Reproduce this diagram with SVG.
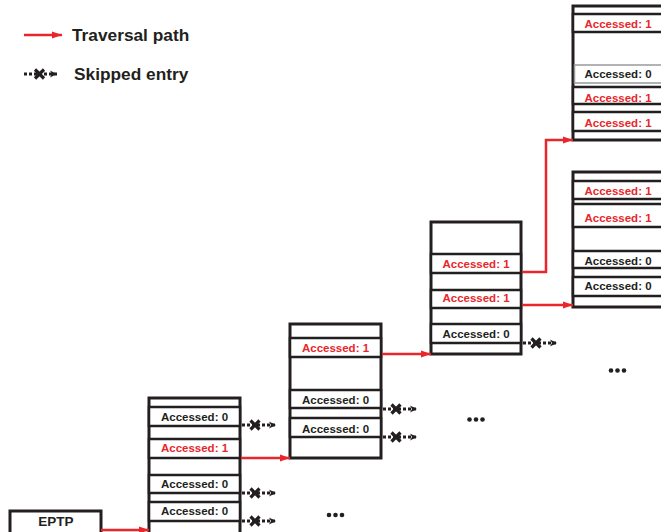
<svg xmlns="http://www.w3.org/2000/svg" width="661" height="532" viewBox="0 0 661 532">
<defs>
<style>
.tbl{fill:#fff;stroke:#231f20;stroke-width:3}
.row{fill:#fff;stroke:#231f20;stroke-width:2.5}
.grow{fill:#fff;stroke:#9a9a9a;stroke-width:1.5}
.lbl{font-family:"Liberation Sans",Arial,sans-serif;font-size:11.5px;font-weight:bold;text-anchor:middle}
.k{fill:#231f20}
.r{fill:#e8262b}
.leg{font-family:"Liberation Sans",Arial,sans-serif;font-size:17.3px;font-weight:bold;fill:#231f20}
.red{fill:none;stroke:#e8262b;stroke-width:2.5;marker-end:url(#ah)}
.skip{fill:none;stroke:#231f20;stroke-width:3;stroke-dasharray:3 2;marker-end:url(#sh)}
.x{stroke:#231f20;stroke-width:3.2;fill:none}
.dot{fill:#231f20}
</style>
<marker id="ah" markerUnits="userSpaceOnUse" markerWidth="11" markerHeight="8" refX="10" refY="4" orient="auto">
<path d="M0,0.5 L10,4 L0,7.5 Z" fill="#e8262b"/>
</marker>
<marker id="sh" markerUnits="userSpaceOnUse" markerWidth="8" markerHeight="8" refX="7" refY="4" orient="auto">
<path d="M0,0.5 L7,4 L0,7.5 L2,4 Z" fill="#231f20"/>
</marker>
</defs>
<rect width="661" height="532" fill="#fff"/>

<g id="legend">
<line class="red" x1="24" y1="35" x2="62" y2="35"/>
<text class="leg" x="72" y="41">Traversal path</text>
<line class="skip" x1="24" y1="74" x2="57" y2="74"/>
<path class="x" d="M35,69.5 L44,78.5 M44,69.5 L35,78.5"/>
<text class="leg" x="74" y="80">Skipped entry</text>
</g>

<g id="eptp">
<rect class="tbl" x="10" y="511" width="91" height="30"/>
<text class="lbl k" x="56" y="526" style="font-size:13.5px">EPTP</text>
</g>

<g id="table-1">
<rect class="tbl" x="149" y="398" width="91" height="150"/>
<rect class="row" x="149" y="407" width="91" height="19"/>
<rect class="row" x="149" y="439" width="91" height="19"/>
<rect class="row" x="149" y="475" width="91" height="18"/>
<rect class="row" x="149" y="502" width="91" height="19"/>
<text class="lbl k" x="194.5" y="421">Accessed: 0</text>
<text class="lbl r" x="194.5" y="452">Accessed: 1</text>
<text class="lbl k" x="194.5" y="488">Accessed: 0</text>
<text class="lbl k" x="194.5" y="515">Accessed: 0</text>
</g>

<g id="table-2">
<rect class="tbl" x="290" y="324" width="91" height="134"/>
<rect class="row" x="290" y="338" width="91" height="19"/>
<rect class="row" x="290" y="390" width="91" height="18"/>
<rect class="row" x="290" y="418" width="91" height="19"/>
<text class="lbl r" x="335.5" y="352">Accessed: 1</text>
<text class="lbl k" x="335.5" y="404">Accessed: 0</text>
<text class="lbl k" x="335.5" y="433">Accessed: 0</text>
</g>

<g id="table-3">
<rect class="tbl" x="431" y="222" width="90" height="132"/>
<rect class="row" x="431" y="254" width="90" height="19"/>
<rect class="row" x="431" y="290" width="90" height="18"/>
<rect class="row" x="431" y="324" width="90" height="19"/>
<text class="lbl r" x="476" y="268">Accessed: 1</text>
<text class="lbl r" x="476" y="302">Accessed: 1</text>
<text class="lbl k" x="476" y="338">Accessed: 0</text>
</g>

<g id="table-4">
<rect class="tbl" x="573" y="6" width="90" height="134"/>
<rect class="row" x="573" y="14" width="90" height="18"/>
<rect class="grow" x="574.5" y="65" width="90" height="18"/>
<rect class="row" x="573" y="87" width="90" height="17"/>
<rect class="row" x="573" y="112" width="90" height="19"/>
<text class="lbl r" x="618" y="28">Accessed: 1</text>
<text class="lbl k" x="618" y="78">Accessed: 0</text>
<text class="lbl r" x="618" y="102">Accessed: 1</text>
<text class="lbl r" x="618" y="127">Accessed: 1</text>
</g>

<g id="table-5">
<rect class="tbl" x="573" y="172" width="90" height="135"/>
<rect class="row" x="573" y="181" width="90" height="18"/>
<rect class="row" x="573" y="204" width="90" height="23"/>
<rect class="row" x="573" y="251" width="90" height="17"/>
<rect class="row" x="573" y="277" width="90" height="19"/>
<text class="lbl r" x="618" y="195">Accessed: 1</text>
<text class="lbl r" x="618" y="222">Accessed: 1</text>
<text class="lbl k" x="618" y="265">Accessed: 0</text>
<text class="lbl k" x="618" y="290">Accessed: 0</text>
</g>

<g id="ellipses">
<circle class="dot" cx="329" cy="515" r="2.3"/><circle class="dot" cx="335.5" cy="515" r="2.3"/><circle class="dot" cx="342" cy="515" r="2.3"/>
<circle class="dot" cx="469.5" cy="419.5" r="2.3"/><circle class="dot" cx="476" cy="419.5" r="2.3"/><circle class="dot" cx="482.5" cy="419.5" r="2.3"/>
<circle class="dot" cx="611" cy="370.5" r="2.3"/><circle class="dot" cx="617.5" cy="370.5" r="2.3"/><circle class="dot" cx="624" cy="370.5" r="2.3"/>
</g>

<g id="connectors">
<line class="red" x1="101" y1="530" x2="149" y2="530"/>
<line class="red" x1="241" y1="458" x2="290" y2="458"/>
<line class="red" x1="382" y1="354" x2="431" y2="354"/>
<polyline class="red" points="522,272 546,272 546,140 573,140"/>
<line class="red" x1="522" y1="305" x2="573" y2="305"/>

<line class="skip" x1="242" y1="425" x2="276" y2="425"/>
<path class="x" d="M250.5,420.5 L259.5,429.5 M259.5,420.5 L250.5,429.5"/>
<line class="skip" x1="242" y1="493" x2="276" y2="493"/>
<path class="x" d="M250.5,488.5 L259.5,497.5 M259.5,488.5 L250.5,497.5"/>
<line class="skip" x1="242" y1="521" x2="276" y2="521"/>
<path class="x" d="M250.5,516.5 L259.5,525.5 M259.5,516.5 L250.5,525.5"/>
<line class="skip" x1="383" y1="409" x2="417" y2="409"/>
<path class="x" d="M391.5,404.5 L400.5,413.5 M400.5,404.5 L391.5,413.5"/>
<line class="skip" x1="383" y1="437" x2="417" y2="437"/>
<path class="x" d="M391.5,432.5 L400.5,441.5 M400.5,432.5 L391.5,441.5"/>
<line class="skip" x1="523" y1="343" x2="557" y2="343"/>
<path class="x" d="M531.5,338.5 L540.5,347.5 M540.5,338.5 L531.5,347.5"/>
</g>
</svg>
